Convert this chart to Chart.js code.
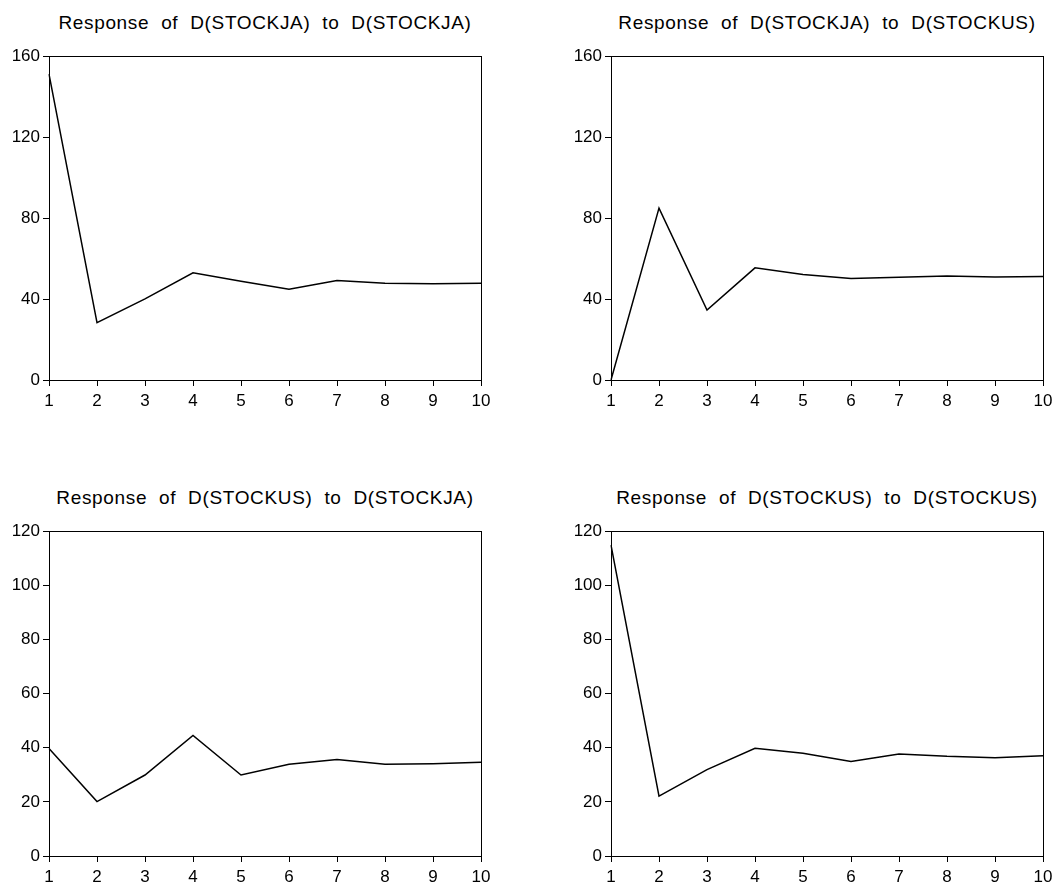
<!DOCTYPE html>
<html>
<head>
<meta charset="utf-8">
<script src="https://cdn.jsdelivr.net/npm/chart.js@4.4.0/dist/chart.umd.min.js"></script>
<style>
  body { margin: 0; background: #fff; width: 1055px; height: 884px; position: relative; overflow: hidden; }
  canvas { position: absolute; }
  .titulo {
    position: absolute; width: 500px; text-align: center;
    font-family: "Liberation Sans", Arial, sans-serif; font-size: 19px; color: #000;
    word-spacing: 6px; letter-spacing: 0.65px; white-space: nowrap;
  }
</style>
</head>
<body>
<div class="titulo" id="t1"></div>
<div class="titulo" id="t2"></div>
<div class="titulo" id="t3"></div>
<div class="titulo" id="t4"></div>
<canvas id="g1" width="500" height="368"></canvas>
<canvas id="g2" width="500" height="368"></canvas>
<canvas id="g3" width="500" height="369"></canvas>
<canvas id="g4" width="500" height="369"></canvas>
<script>
const periodos = ['1', '2', '3', '4', '5', '6', '7', '8', '9', '10'];

const jaToJa = [151.1, 28.3, 40.1, 52.9, 48.8, 44.8, 49.1, 47.8, 47.5, 47.8];
const jaToUs = [0, 84.9, 34.5, 55.4, 52.1, 50.1, 50.8, 51.4, 50.9, 51.1];
const usToJa = [39.7, 20.1, 29.9, 44.5, 29.9, 33.9, 35.6, 33.9, 34.1, 34.6];
const usToUs = [114.8, 22.1, 31.9, 39.8, 37.9, 34.9, 37.7, 36.8, 36.3, 37.0];

const ticksArriba = [0, 40, 80, 120, 160];
const ticksAbajo = [0, 20, 40, 60, 80, 100, 120];

const titulos = [
    'Response of D(STOCKJA) to D(STOCKJA)',
    'Response of D(STOCKJA) to D(STOCKUS)',
    'Response of D(STOCKUS) to D(STOCKJA)',
    'Response of D(STOCKUS) to D(STOCKUS)'
];

// marco completo del area de trazado
const marco = {
    id: 'marco',
    afterDraw(chart) {
        const a = chart.chartArea;
        const c = chart.ctx;
        c.save();
        c.strokeStyle = '#000';
        c.lineWidth = 1;
        c.strokeRect(Math.round(a.left) + 0.5, Math.round(a.top) + 0.5,
            Math.round(a.right - a.left), Math.round(a.bottom - a.top));
        c.restore();
    }
};

const fuente = { family: '"Liberation Sans", Arial, sans-serif', size: 17 };

function generarGrafico(id, datos, ticks) {
    const ctx = document.getElementById(id).getContext('2d');
    return new Chart(ctx, {
        type: 'line',
        data: {
            labels: periodos,
            datasets: [{
                data: datos,
                borderColor: '#000',
                borderWidth: 1.5,
                pointRadius: 0,
                tension: 0,
                fill: false
            }]
        },
        options: {
            responsive: false,
            animation: false,
            devicePixelRatio: 1,
            layout: { padding: { top: 16, right: 19, left: 0, bottom: 0 } },
            plugins: { legend: { display: false }, tooltip: { enabled: false }, title: { display: false } },
            scales: {
                x: {
                    offset: false,
                    grid: { drawOnChartArea: false, drawTicks: true, tickLength: 6, color: '#000' },
                    border: { display: true, color: '#000', width: 1 },
                    ticks: { color: '#000', font: fuente, padding: 5, maxRotation: 0, autoSkip: false },
                    afterFit: s => { s.height = 28; }
                },
                y: {
                    min: ticks[0],
                    max: ticks[ticks.length - 1],
                    afterBuildTicks: s => { s.ticks = ticks.map(v => ({ value: v })); },
                    grid: { drawOnChartArea: false, drawTicks: true, tickLength: 6, color: '#000' },
                    border: { display: true, color: '#000', width: 1 },
                    ticks: { color: '#000', font: fuente, padding: 3 },
                    afterFit: s => { s.width = 49; }
                }
            }
        },
        plugins: [marco]
    });
}

// posiciones de cada panel
const paneles = [
    { id: 'g1', t: 't1', datos: jaToJa, ticks: ticksArriba, left: 0, top: 40 },
    { id: 'g2', t: 't2', datos: jaToUs, ticks: ticksArriba, left: 562, top: 40 },
    { id: 'g3', t: 't3', datos: usToJa, ticks: ticksAbajo, left: 0, top: 515 },
    { id: 'g4', t: 't4', datos: usToUs, ticks: ticksAbajo, left: 562, top: 515 }
];

paneles.forEach((p, i) => {
    const cv = document.getElementById(p.id);
    cv.style.left = p.left + 'px';
    cv.style.top = p.top + 'px';
    const t = document.getElementById(p.t);
    t.textContent = titulos[i];
    t.style.left = (p.left + 49 + 216 - 250) + 'px';
    t.style.top = (p.top + 16 - 44) + 'px';
    generarGrafico(p.id, p.datos, p.ticks);
});
</script>
</body>
</html>
